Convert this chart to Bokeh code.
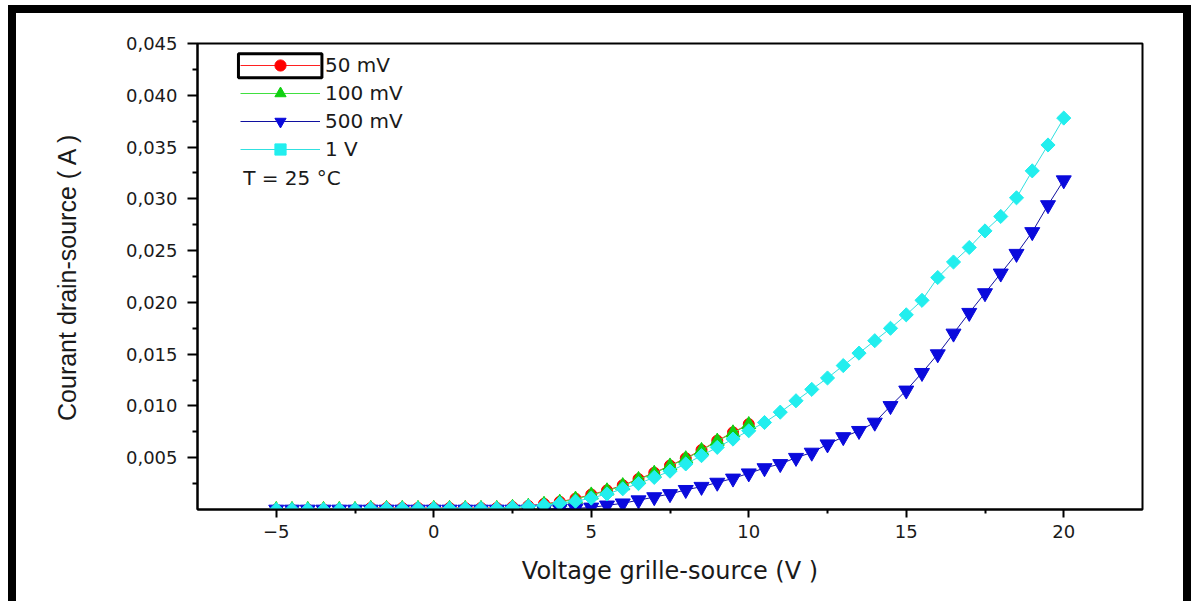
from bokeh.plotting import figure
from bokeh.models import (Range1d, FixedTicker, CustomJSTickFormatter, Legend, LegendItem,
                          Label, BoxAnnotation)
from bokeh.embed import file_html
from bokeh.resources import INLINE
from math import pi

# ---------------- data ----------------
vgs_long = [-5.0, -4.5, -4.0, -3.5, -3.0, -2.5, -2.0, -1.5, -1.0, -0.5,
            0.0, 0.5, 1.0, 1.5, 2.0, 2.5, 3.0, 3.5, 4.0, 4.5,
            5.0, 5.5, 6.0, 6.5, 7.0, 7.5, 8.0, 8.5, 9.0, 9.5,
            10.0, 10.5, 11.0, 11.5, 12.0, 12.5, 13.0, 13.5, 14.0, 14.5,
            15.0, 15.5, 16.0, 16.5, 17.0, 17.5, 18.0, 18.5, 19.0, 19.5, 20.0]

vgs_short = [-5.0, -4.5, -4.0, -3.5, -3.0, -2.5, -2.0, -1.5, -1.0, -0.5,
             0.0, 0.5, 1.0, 1.5, 2.0, 2.5, 3.0, 3.5, 4.0, 4.5,
             5.0, 5.5, 6.0, 6.5, 7.0, 7.5, 8.0, 8.5, 9.0, 9.5, 10.0]

ids_50mv = [0.0, 0.0, 0.0, 0.0, 0.0, 0.0, 0.00015, 0.00015, 0.00015, 0.00015,
            0.00015, 0.00015, 0.00015, 0.00015, 0.00015, 0.00025, 0.00035, 0.00055, 0.00075, 0.00105,
            0.00145, 0.00185, 0.00235, 0.00295, 0.00355, 0.00425, 0.00495, 0.00575, 0.00665, 0.00745, 0.00825]

ids_100mv = [0.0, 0.0, 0.0, 0.0, 0.0, 0.0, 0.0001, 0.0001, 0.0001, 0.0001,
             0.0001, 0.0001, 0.0001, 0.0001, 0.0001, 0.0002, 0.0003, 0.0005, 0.0007, 0.0010,
             0.0014, 0.0018, 0.0023, 0.0029, 0.0035, 0.0042, 0.0049, 0.0057, 0.0066, 0.0074, 0.0082]

ids_500mv = [0.0, 0.0, 0.0, 0.0, 0.0, 0.0, 0.0, 0.0, 0.0, 0.0,
             0.0, 0.0, 0.0, 0.0, 0.0, 0.0, 0.0, 0.0, 0.0001, 0.0001,
             0.0002, 0.0004, 0.0006, 0.0009, 0.0012, 0.0015, 0.0019, 0.0022, 0.0026, 0.0030,
             0.0035, 0.0040, 0.0044, 0.0050, 0.0055, 0.0063, 0.0070, 0.0076, 0.0084, 0.0100,
             0.0115, 0.0132, 0.0150, 0.0170, 0.0190, 0.0209, 0.0228, 0.0247, 0.0268, 0.0294, 0.0318]

ids_1v = [0.0, 0.0, 0.0, 0.0, 0.0, 0.0, 0.0001, 0.0001, 0.0001, 0.0001,
          0.0001, 0.0001, 0.0001, 0.0001, 0.0001, 0.0002, 0.0003, 0.0004, 0.0006, 0.0008,
          0.0011, 0.0015, 0.0020, 0.0025, 0.0031, 0.0037, 0.0044, 0.0052, 0.0060, 0.0068,
          0.0076, 0.0084, 0.0094, 0.0105, 0.0116, 0.0127, 0.0139, 0.0151, 0.0163, 0.0175,
          0.0188, 0.0202, 0.0224, 0.0239, 0.0253, 0.0269, 0.0283, 0.0301, 0.0327, 0.0352, 0.0378]

series_labels = ["50 mV", "100 mV", "500 mV", "1 V"]
x_ticks = [-5, 0, 5, 10, 15, 20]
x_minor = [-2.5, 2.5, 7.5, 12.5, 17.5]
y_ticks = [0.005, 0.010, 0.015, 0.020, 0.025, 0.030, 0.035, 0.040, 0.045]
y_minor = [0.0025, 0.0075, 0.0125, 0.0175, 0.0225, 0.0275, 0.0325, 0.0375, 0.0425]
note_text = "T = 25 °C"

# ---------------- figure ----------------
p = figure(width=1167, height=588, output_backend="svg", toolbar_location=None,
           x_range=Range1d(-7.5, 22.5), y_range=Range1d(0, 0.045),
           min_border_left=181, min_border_right=41, min_border_top=30, min_border_bottom=92)
# thick black frame (left, top, right) drawn around the canvas without affecting layout
p.styles = {
    "margin-left": "16px",
    "margin-top": "13px",
    "box-shadow": ("-8px 0 0 0 black, 8px 0 0 0 black, 0 -8px 0 0 black, "
                   "-8px -8px 0 0 black, 8px -8px 0 0 black"),
}
p.background_fill_color = "white"
p.border_fill_color = "white"
p.outline_line_color = "black"
p.outline_line_width = 2
p.xgrid.visible = False
p.ygrid.visible = False

# series (drawn red, green, blue, cyan so cyan sits on top)
r1l = p.line(vgs_short, ids_50mv, line_color="#ff2020", line_width=1)
r1s = p.scatter(vgs_short, ids_50mv, marker="circle", size=11,
                fill_color="#ff0000", line_color="#ff0000")
r2l = p.line(vgs_short, ids_100mv, line_color="#40e040", line_width=1)
r2s = p.scatter(vgs_short, ids_100mv, marker="triangle", size=14,
                fill_color="#10d010", line_color="#10d010")
r3l = p.line(vgs_long, ids_500mv, line_color="#1010a0", line_width=1)
r3s = p.scatter(vgs_long, ids_500mv, marker="inverted_triangle", size=15,
                fill_color="#0a0adc", line_color="#0a0adc")
r4l = p.line(vgs_long, ids_1v, line_color="#30e0e0", line_width=1)
r4s = p.scatter(vgs_long, ids_1v, marker="square", angle=pi / 4, size=10,
                fill_color="#22eeee", line_color="#22eeee")

# axes
tick_font = "DejaVu Sans"
for ax in (p.xaxis[0], p.yaxis[0]):
    ax.axis_line_width = 2
    ax.axis_line_color = "black"
    ax.major_tick_line_width = 2
    ax.minor_tick_line_width = 2
    ax.major_tick_line_color = "black"
    ax.minor_tick_line_color = "black"
    ax.major_tick_in = 0
    ax.minor_tick_in = 0
    ax.major_label_text_font = tick_font
    ax.major_label_text_font_size = "18px"
    ax.major_label_text_color = "#1a1a1a"
    ax.axis_label_text_font_style = "normal"
    ax.axis_label_text_color = "#1a1a1a"

p.xaxis.ticker = FixedTicker(ticks=x_ticks, minor_ticks=x_minor)
p.xaxis.major_tick_out = 8
p.xaxis.minor_tick_out = 4
p.xaxis.major_label_standoff = 7
p.xaxis.axis_label = "Voltage grille-source (V )"
p.xaxis.axis_label_text_font = "DejaVu Sans"
p.xaxis.axis_label_text_font_size = "24px"
p.xaxis.axis_label_standoff = 16

p.yaxis.ticker = FixedTicker(ticks=y_ticks, minor_ticks=y_minor)
p.yaxis.formatter = CustomJSTickFormatter(code="return tick.toFixed(3).replace('.', ',');")
p.yaxis.major_tick_out = 10
p.yaxis.minor_tick_out = 5
p.yaxis.major_label_standoff = 10
p.yaxis.axis_label = "Courant drain-source ( A )"
p.yaxis.axis_label_text_font = "Liberation Sans"
p.yaxis.axis_label_text_font_size = "25px"
p.yaxis.axis_label_standoff = 42

# legend
renderers = [(r1l, r1s), (r2l, r2s), (r3l, r3s), (r4l, r4s)]
items = [LegendItem(label=lab, renderers=list(rs)) for lab, rs in zip(series_labels, renderers)]
legend = Legend(items=items, location=(43, 346), orientation="vertical",
                glyph_width=80, glyph_height=28, label_height=28, label_standoff=5,
                spacing=0, padding=0, margin=0,
                border_line_alpha=0, background_fill_alpha=0,
                label_text_font="DejaVu Sans", label_text_font_size="20px",
                label_text_color="#1a1a1a")
p.add_layout(legend)

# selection box around the first legend entry
p.add_layout(BoxAnnotation(left=-6.2, right=-3.55, bottom=0.0417, top=0.0440,
                           fill_alpha=0, line_color="black", line_alpha=1.0, line_width=3))

# temperature note
p.add_layout(Label(x=-6.05, y=0.0320, text=note_text, text_baseline="middle",
                   text_font="DejaVu Sans", text_font_size="20px", text_color="#1a1a1a"))

open("out.html", "w").write(file_html(p, INLINE))
